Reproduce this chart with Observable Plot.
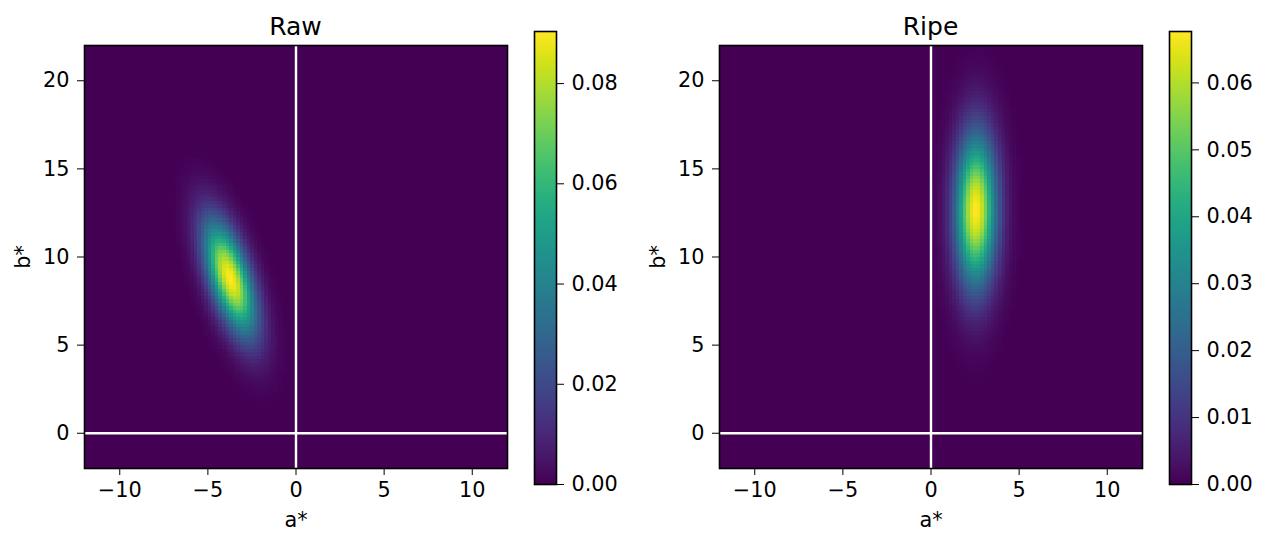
<!DOCTYPE html>
<html>
<head>
<meta charset="utf-8">
<script src="https://cdn.jsdelivr.net/npm/d3@7"></script>
<script src="https://cdn.jsdelivr.net/npm/@observablehq/plot@0.6"></script>
<style>
  html, body { margin: 0; padding: 0; background: #fff; }
  #root { position: relative; width: 1266px; height: 547px; font-family: "DejaVu Sans", sans-serif; }
  .abs { position: absolute; }
  .title { position: absolute; font-size: 25px; line-height: 1; color: #000; transform: translate(-50%, -50%); white-space: nowrap; }
</style>
</head>
<body>
<div id="root"></div>
<script>
// ---- data ----
const panelTitles = ["Raw", "Ripe"];
const meanA = [-3.75, 2.55];      // a* centre of each density
const meanB = [8.8, 12.65];       // b* centre
const sdA = [1.01, 0.80];         // a* standard deviation
const sdB = [2.2, 2.94];          // b* standard deviation
const corrAB = [-0.61, 0.02];     // correlation a*/b*
const xDomain = [-12, 12];
const yDomain = [-2, 22];
const xTicks = [-10, -5, 0, 5, 10];
const yTicks = [0, 5, 10, 15, 20];
const cbarTicks = [
  [0, 0.02, 0.04, 0.06, 0.08],
  [0, 0.01, 0.02, 0.03, 0.04, 0.05, 0.06]
];
const axisLabelX = "a*";
const axisLabelY = "b*";

// bivariate normal density
function makePdf(i) {
  const sa = sdA[i], sb = sdB[i], r = corrAB[i];
  const k = 1 / (2 * Math.PI * sa * sb * Math.sqrt(1 - r * r));
  return (x, y) => {
    const u = (x - meanA[i]) / sa, v = (y - meanB[i]) / sb;
    return k * Math.exp(-(u * u - 2 * r * u * v + v * v) / (2 * (1 - r * r)));
  };
}

const root = document.getElementById("root");
const font = {fontFamily: "DejaVu Sans, sans-serif", fontSize: "20.8px", color: "#000", background: "transparent", overflow: "visible"};

const layout = [
  {panelLeft: 0, cbarLeft: 520, titleX: 295.5},
  {panelLeft: 635, cbarLeft: 1155, titleX: 930.5}
];

panelTitles.forEach((title, i) => {
  const pdf = makePdf(i);
  const peak = pdf(meanA[i], meanB[i]);
  const L = layout[i];

  const panel = Plot.plot({
    width: 520, height: 547,
    marginLeft: 84, marginRight: 13, marginTop: 45, marginBottom: 79,
    style: font,
    x: {domain: xDomain},
    y: {domain: yDomain},
    color: {type: "linear", scheme: "viridis", domain: [0, peak]},
    marks: [
      Plot.raster({x1: xDomain[0], x2: xDomain[1], y1: yDomain[0], y2: yDomain[1],
                   width: 120, height: 120, fill: pdf, imageRendering: "pixelated"}),
      Plot.ruleX([0], {stroke: "#fff", strokeWidth: 2.4}),
      Plot.ruleY([0], {stroke: "#fff", strokeWidth: 2.4}),
      Plot.frame({stroke: "#000", strokeWidth: 1.6}),
      Plot.axisX({ticks: xTicks, tickSize: 7, tickPadding: 7, label: axisLabelX,
                  labelAnchor: "center", labelArrow: "none", labelOffset: 58}),
      Plot.axisY({ticks: yTicks, tickSize: 7, tickPadding: 8, label: axisLabelY,
                  labelAnchor: "center", labelArrow: "none", labelOffset: 69})
    ]
  });
  panel.classList.add("abs");
  panel.style.left = L.panelLeft + "px";
  panel.style.top = "0px";
  root.appendChild(panel);

  const cbar = Plot.plot({
    width: 110, height: 547,
    marginLeft: 14, marginRight: 74, marginTop: 31, marginBottom: 63,
    style: font,
    x: {domain: [0, 1], axis: null},
    y: {domain: [0, peak]},
    color: {type: "linear", scheme: "viridis", domain: [0, peak]},
    marks: [
      Plot.raster({x1: 0, x2: 1, y1: 0, y2: peak, width: 1, height: 256,
                   fill: (x, y) => y}),
      Plot.frame({stroke: "#000", strokeWidth: 1.6}),
      Plot.axisY({anchor: "right", ticks: cbarTicks[i], tickFormat: d3.format(".2f"),
                  tickSize: 7, tickPadding: 8, label: null})
    ]
  });
  cbar.classList.add("abs");
  cbar.style.left = L.cbarLeft + "px";
  cbar.style.top = "0px";
  root.appendChild(cbar);

  const t = document.createElement("div");
  t.className = "title";
  t.textContent = title;
  t.style.left = L.titleX + "px";
  t.style.top = "26px";
  root.appendChild(t);
});
</script>
</body>
</html>
